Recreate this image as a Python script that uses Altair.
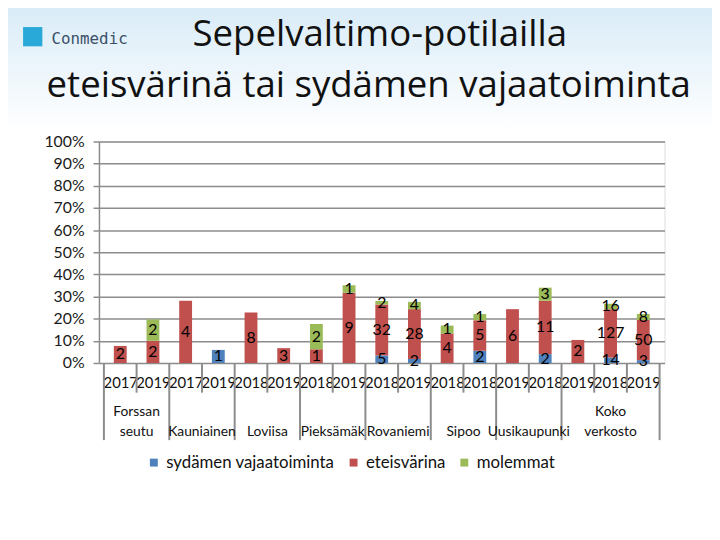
import altair as alt
import pandas as pd

# ---------------- data ----------------
years = ["2017", "2019", "2017", "2019", "2018", "2019", "2018", "2019", "2018",
         "2019", "2018", "2018", "2019", "2018", "2019", "2018", "2019"]
group_names = ["Forssan\nseutu", "Kauniainen", "Loviisa", "Pieksämäk", "Rovaniemi",
               "Sipoo", "Uusikaupunki", "Koko\nverkosto"]
group_sizes = [2, 2, 2, 2, 2, 2, 2, 3]
series = ["sydämen vajaatoiminta", "eteisvärina", "molemmat"]
colors = ["#4F81BD", "#C0504D", "#9BBB59"]

# share of patients (%) per bar
pct_sv = [0, 0, 0, 5.9, 0, 0, 0, 0, 3.4, 1.8, 0, 5.5, 0, 4.0, 0, 2.5, 1.3]
pct_ev = [7.7, 10.0, 28.1, 0, 22.8, 6.7, 6.2, 31.7, 23.0, 22.5, 13.3, 13.8, 24.3, 24.1, 10.4, 21.8, 18.1]
pct_mo = [0, 9.7, 0, 0, 0, 0, 11.4, 3.4, 1.6, 3.3, 3.6, 2.8, 0, 5.9, 0, 2.5, 2.7]
# patient counts (data labels)
n_sv = [None, None, None, 1, None, None, None, None, 5, 2, None, 2, None, 2, None, 14, 3]
n_ev = [2, 2, 4, None, 8, 3, 1, 9, 32, 28, 4, 5, 6, 11, 2, 127, 50]
n_mo = [None, 2, None, None, None, None, 2, 1, 2, 4, 1, 1, None, 3, None, 16, 8]

title_lines = ["Sepelvaltimo-potilailla", "eteisvärinä tai sydämen vajaatoiminta"]

# ---------------- tables ----------------
rows = []
for i in range(len(years)):
    start = 0.0
    for k, (p, n) in enumerate(zip([pct_sv[i], pct_ev[i], pct_mo[i]],
                                   [n_sv[i], n_ev[i], n_mo[i]])):
        if p > 0:
            rows.append({"i": i, "series": series[k], "order": k,
                         "y0": start / 100, "y1": (start + p) / 100,
                         "mid": (start + p / 2) / 100, "label": str(n)})
            start += p
df = pd.DataFrame(rows)

grp_rows, sep_rows = [], []
pos = 0
sep_rows.append({"x": -0.5, "long": 1})
for name, size in zip(group_names, group_sizes):
    grp_rows.append({"name": name, "cx": pos + (size - 1) / 2,
                     "lines": name.count("\n") + 1})
    for j in range(1, size):
        sep_rows.append({"x": pos + j - 0.5, "long": 0})
    pos += size
    sep_rows.append({"x": pos - 0.5, "long": 1})
grp = pd.DataFrame(grp_rows)
seps = pd.DataFrame(sep_rows)

W, H = 572, 224
FONT = "Lato"
TFONT = "Open Sans"
GRID = "#8c8c8c"

xscale = alt.Scale(domain=[-0.5, len(years) - 0.5], nice=False, zero=False)
yscale = alt.Scale(domain=[0, 1], nice=False)
year_expr = "[" + ",".join("'%s'" % y for y in years) + "][datum.value]"

xaxis = alt.Axis(values=list(range(len(years))), labelExpr=year_expr,
                 grid=False, ticks=False, domain=False, title=None,
                 labelFontSize=15, labelPadding=13, labelColor="#111",
                 labelFlush=False, labelOverlap=False, labelFont=FONT)
yaxis = alt.Axis(values=[v / 10 for v in range(11)], format=".0%",
                 grid=True, gridColor=GRID, gridWidth=1.5,
                 domainColor=GRID, domainWidth=1.5, tickColor=GRID,
                 tickWidth=1.5, tickSize=6, labelFontSize=16,
                 labelColor="#1a1a1a", labelPadding=9, title=None,
                 labelFont=FONT, labelOverlap=False, labelFlush=False)


def X(field):
    return alt.X(field, scale=xscale, axis=xaxis)


def Y(field):
    return alt.Y(field, scale=yscale, axis=yaxis)


bars = alt.Chart(df).mark_bar(size=13).encode(
    x=X("i:Q"),
    y=Y("y0:Q"),
    y2="y1:Q",
    color=alt.Color("series:N", scale=alt.Scale(domain=series, range=colors),
                    legend=alt.Legend(orient="none", legendX=47, legendY=316,
                                      direction="horizontal", title=None,
                                      symbolType="square", symbolSize=64,
                                      symbolStrokeWidth=0, labelFontSize=17,
                                      labelFont=FONT, labelColor="#111",
                                      labelLimit=0,
                                      columnPadding=10, labelOffset=4, padding=0)),
)

labels = alt.Chart(df).mark_text(fontSize=16, font=FONT, color="#000").encode(
    x=X("i:Q"), y=Y("mid:Q"), text="label:N")

sep_long = alt.Chart(seps[seps["long"] == 1]).mark_rule(color=GRID, strokeWidth=2).encode(
    x=X("x:Q"), y=alt.value(H), y2=alt.value(H + 78))
sep_short = alt.Chart(seps[seps["long"] == 0]).mark_rule(color=GRID, strokeWidth=2).encode(
    x=X("x:Q"), y=alt.value(H), y2=alt.value(H + 30))

grp_one = alt.Chart(grp[grp["lines"] == 1]).mark_text(
    fontSize=14, font=FONT, color="#111", baseline="bottom").encode(
    x=X("cx:Q"), y=alt.value(H + 77), text="name:N")
grp_two = alt.Chart(grp[grp["lines"] == 2]).mark_text(
    fontSize=14, font=FONT, color="#111", baseline="bottom", lineBreak="\n",
    lineHeight=20).encode(
    x=X("cx:Q"), y=alt.value(H + 57), text="name:N")

title_df = pd.DataFrame({"t": title_lines, "row": [0, 1]})
t1 = alt.Chart(title_df[title_df.row == 0]).mark_text(
    fontSize=37, font=TFONT, color="#111", align="center", baseline="alphabetic").encode(
    x=alt.value(284), y=alt.value(-97), text="t:N")
t2 = alt.Chart(title_df[title_df.row == 1]).mark_text(
    fontSize=37, font=TFONT, color="#111", align="left", baseline="alphabetic").encode(
    x=alt.value(-53), y=alt.value(-45), text="t:N")

bg = alt.Chart(title_df.head(1)).mark_rect(
    color=alt.LinearGradient(gradient="linear",
                             stops=[alt.GradientStop(color="#d8ebf7", offset=0),
                                    alt.GradientStop(color="#ffffff", offset=1)],
                             x1=0, x2=0, y1=0, y2=1)).encode(
    x=alt.value(-100), x2=alt.value(W + 60), y=alt.value(-140), y2=alt.value(-10))

logo_df = pd.DataFrame({"t": ["Conmedic"]})
logo_icon = alt.Chart(logo_df).mark_point(shape="square", filled=True, size=380,
                                          color="#29a9d8", opacity=1).encode(
    x=alt.value(-67), y=alt.value(-106))
logo_text = alt.Chart(logo_df).mark_text(fontSize=16, font="DejaVu Sans Mono",
                                         color="#3a5068", align="left").encode(
    x=alt.value(-48), y=alt.value(-104), text="t:N")

chart = alt.layer(bg, logo_icon, logo_text, t1, t2, bars, labels, sep_long,
                  sep_short, grp_one, grp_two).properties(
    width=W, height=H,
    autosize=alt.AutoSizeParams(type="none"),
    padding={"left": 92, "top": 132, "right": 48, "bottom": 176},
).configure_view(strokeWidth=0).configure(font=FONT, background="white")

chart.save("out.html", embed_options={"renderer": "svg", "actions": False})
